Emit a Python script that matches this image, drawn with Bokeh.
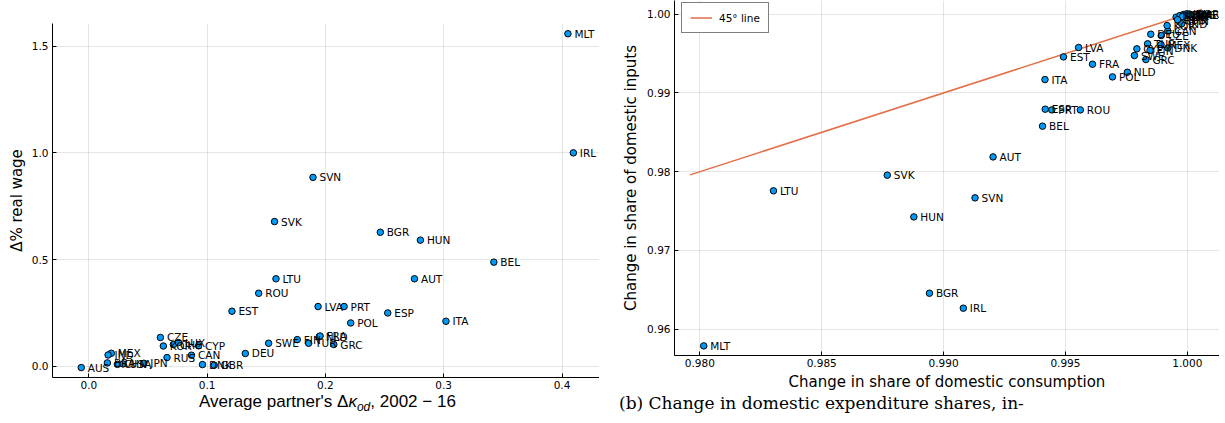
from bokeh.plotting import figure
from bokeh.layouts import row, column
from bokeh.models import (ColumnDataSource, Legend, LegendItem, FixedTicker,
                          NumeralTickFormatter, Range1d, Div)
from bokeh.embed import file_html
from bokeh.resources import INLINE
from bokeh.core.properties import value

# ---------------- data: left panel (real wage vs partner change) ----------------
left_names = ["MLT", "IRL", "SVN", "SVK", "BGR", "HUN", "BEL", "AUT", "LTU", "ROU",
              "EST", "LVA", "PRT", "ESP", "POL", "ITA", "GRC", "NLD", "FRA", "FIN",
              "TUR", "SWE", "DEU", "CZE", "KOR", "CHE", "LUX", "CYP", "CAN", "RUS",
              "DNK", "GBR", "JPN", "MEX", "IND", "BRA", "CHN", "USA", "AUS"]
left_x = [0.405, 0.4096, 0.1895, 0.157, 0.2464, 0.2803, 0.3424, 0.2753, 0.1582, 0.1436,
          0.121, 0.1938, 0.2158, 0.2527, 0.2214, 0.3019, 0.2071, 0.1948, 0.1955, 0.1762,
          0.1858, 0.152, 0.1323, 0.0605, 0.063, 0.0715, 0.0758, 0.0928, 0.0868, 0.0661,
          0.0961, 0.106, 0.0465, 0.019, 0.0163, 0.0157, 0.0242, 0.029, -0.0064]
left_y = [1.558, 1.000, 0.885, 0.678, 0.628, 0.591, 0.488, 0.410, 0.410, 0.342,
          0.258, 0.280, 0.280, 0.250, 0.203, 0.211, 0.102, 0.139, 0.142, 0.125,
          0.108, 0.108, 0.060, 0.135, 0.095, 0.102, 0.111, 0.096, 0.052, 0.041,
          0.008, 0.005, 0.014, 0.061, 0.053, 0.016, 0.009, 0.011, -0.006]

# ---------------- data: right panel (domestic shares) ----------------
right_names = ["MLT", "LTU", "SVK", "HUN", "BGR", "IRL", "SVN", "AUT", "BEL", "ESP",
               "PRT", "ROU", "ITA", "EST", "LVA", "FRA", "POL", "NLD", "GRC", "SWE",
               "CYP", "FIN", "TUR", "MEX", "DNK", "DEU", "CZE", "CAN", "KOR", "CHN",
               "IND", "LUX", "GBR", "USA", "JPN", "BRA", "AUS", "IDN", "RUS", "NOR",
               "CHE"]
right_x = [0.98016, 0.98302, 0.98769, 0.98878, 0.98942, 0.99081, 0.99129, 0.99203, 0.99406, 0.99417,
           0.99444, 0.99561, 0.99416, 0.99492, 0.99554, 0.99611, 0.99693, 0.99754, 0.99830, 0.99783,
           0.99793, 0.99847, 0.99837, 0.99892, 0.99920, 0.99850, 0.99893, 0.99920, 0.99917, 0.99967,
           0.99977, 0.99954, 0.99970, 0.99984, 0.99997, 0.99990, 1.00003, 0.99980, 0.99960, 1.00008,
           1.00012]
right_y = [0.95788, 0.97757, 0.97956, 0.97426, 0.96457, 0.96267, 0.97668, 0.98188, 0.98578, 0.98794,
           0.98785, 0.98785, 0.99170, 0.99458, 0.99577, 0.99365, 0.99204, 0.99263, 0.99424, 0.99475,
           0.99560, 0.99539, 0.99624, 0.99615, 0.99572, 0.99746, 0.99729, 0.99788, 0.99856, 0.99911,
           0.99878, 0.99962, 0.99983, 0.99996, 1.00005, 0.99985, 0.99990, 0.99970, 0.99930, 1.00002,
           0.99995]
line45 = [0.9796, 1.0006]

left_xticks = [0.0, 0.1, 0.2, 0.3, 0.4]
left_yticks = [0.0, 0.5, 1.0, 1.5]
right_xticks = [0.980, 0.985, 0.990, 0.995, 1.000]
right_yticks = [0.96, 0.97, 0.98, 0.99, 1.00]

BLUE = "#009AFA"
ORANGE = "#E26F46"
FONT = "DejaVu Sans"


def style(p):
    p.title.visible = False
    p.outline_line_color = None
    p.background_fill_color = "white"
    p.border_fill_color = "white"
    for ax in (p.xaxis[0], p.yaxis[0]):
        ax.axis_line_color = "black"
        ax.axis_line_width = 1
        ax.major_tick_in = 4
        ax.major_tick_out = 0
        ax.major_tick_line_color = "black"
        ax.minor_tick_line_color = None
        ax.major_label_text_font = FONT
        ax.major_label_text_font_size = "10.5px"
        ax.major_label_text_color = "black"
        ax.axis_label_text_font = FONT
        ax.axis_label_text_font_size = "15px"
        ax.axis_label_text_font_style = "normal"
        ax.axis_label_text_color = "black"
        ax.major_label_standoff = 4
    p.xaxis[0].major_label_standoff = 3
    for g in p.grid:
        g.grid_line_color = "black"
        g.grid_line_alpha = 0.1
        g.grid_line_width = 1


def points(p, names, xs, ys):
    src = ColumnDataSource(dict(x=xs, y=ys, name=names))
    p.scatter("x", "y", source=src, size=6.5, fill_color=BLUE,
              line_color="black", line_width=1)
    p.text("x", "y", text="name", source=src, x_offset=6.5, text_baseline="middle",
           text_align="left", text_font=value(FONT), text_font_size="10.5px",
           text_color="black")


W1, W2 = 599, 610

# ---------------- left figure ----------------
p1 = figure(frame_width=547, frame_height=354, min_border_left=52, min_border_right=0,
            min_border_top=23, min_border_bottom=18,
            x_range=Range1d(-0.0307, 0.4317), y_range=Range1d(-0.0525, 1.606),
            output_backend="svg", toolbar_location=None)
style(p1)
p1.xaxis[0].ticker = FixedTicker(ticks=left_xticks)
p1.yaxis[0].ticker = FixedTicker(ticks=left_yticks)
p1.xaxis[0].formatter = NumeralTickFormatter(format="0.0")
p1.yaxis[0].formatter = NumeralTickFormatter(format="0.0")
p1.yaxis[0].axis_label = "Δ% real wage"
p1.yaxis[0].axis_label_standoff = 3
points(p1, left_names, left_x, left_y)

# x-axis title of the left panel (with a subscript), drawn as inline SVG text
left_title = Div(
    text=("<div style=\"position:relative; top:-10px; margin-left:194px;\">"
          "<svg width=\"330\" height=\"24\" xmlns=\"http://www.w3.org/2000/svg\">"
          "<text x=\"0\" y=\"17\" font-family=\"DejaVu Sans\" font-size=\"17px\" fill=\"black\">"
          "Average partner's Δ<tspan font-style=\"italic\">κ</tspan>"
          "<tspan font-style=\"italic\" font-size=\"12px\" dy=\"3.5\">od</tspan>"
          "<tspan dy=\"-3.5\">, 2002 − 16</tspan></text></svg></div>"),
    width=W1, height=10, styles={"overflow": "visible"})

# ---------------- right figure ----------------
FH2 = 355
p2 = figure(frame_width=545, frame_height=FH2, min_border_left=65, min_border_right=0,
            min_border_top=0, min_border_bottom=36,
            x_range=Range1d(0.97896, 1.00132), y_range=Range1d(0.95666, 1.00174),
            output_backend="svg", toolbar_location=None)
style(p2)
p2.xaxis[0].ticker = FixedTicker(ticks=right_xticks)
p2.yaxis[0].ticker = FixedTicker(ticks=right_yticks)
p2.xaxis[0].formatter = NumeralTickFormatter(format="0.000")
p2.yaxis[0].formatter = NumeralTickFormatter(format="0.00")
p2.xaxis[0].axis_label = "Change in share of domestic consumption"
p2.xaxis[0].axis_label_standoff = 3
p2.yaxis[0].axis_label = "Change in share of domestic inputs"
p2.yaxis[0].axis_label_standoff = 4

r45 = p2.line(line45, line45, line_color=ORANGE, line_width=1.5)
points(p2, right_names, right_x, right_y)

legend = Legend(items=[LegendItem(label="45° line", renderers=[r45])],
                location=(7, FH2 - 33), border_line_color="black", border_line_width=1,
                background_fill_color="white", background_fill_alpha=1.0,
                padding=8, spacing=0, margin=0, glyph_width=22, glyph_height=13,
                label_standoff=7, label_text_font=FONT, label_text_font_size="10.5px",
                label_text_color="black")
p2.add_layout(legend)

caption = Div(
    text=("<div style=\"position:relative; top:-4px; margin-left:5px; white-space:nowrap; "
          "font-family:'DejaVu Serif'; font-size:17px; line-height:18px; color:black;\">"
          "(b) Change in domestic expenditure shares, in-</div>"),
    width=W2, height=12, styles={"overflow": "visible"})

layout = row(column(p1, left_title), column(p2, caption))
open("out.html", "w").write(file_html(layout, INLINE))
